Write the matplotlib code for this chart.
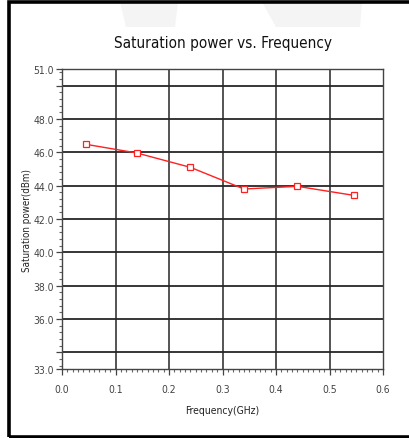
import matplotlib
matplotlib.use("Agg")
import matplotlib.pyplot as plt
from matplotlib.patches import Rectangle, Polygon
from matplotlib.ticker import MultipleLocator, FixedLocator

# 数据
freq_ghz = [0.045, 0.14, 0.24, 0.34, 0.44, 0.545]
sat_power_dbm = [46.48, 45.96, 45.1, 43.8, 43.96, 43.42]

y_ticks = [33, 34, 36, 38, 40, 42, 44, 46, 48, 50, 51]
y_labels = ["33.0", "", "36.0", "38.0", "40.0", "42.0", "44.0", "46.0", "48.0", "", "51.0"]
x_ticks = [0.0, 0.1, 0.2, 0.3, 0.4, 0.5, 0.6]
x_labels = ["0.0", "0.1", "0.2", "0.3", "0.4", "0.5", "0.6"]

plt.rcParams["font.family"] = ["DejaVu Sans"]
plt.rcParams["font.stretch"] = "condensed"

W, H = 409, 439
fig = plt.figure(figsize=(W / 100, H / 100), dpi=100)
fig.set_facecolor("white")

# 背景水印（很浅的灰）
fig.patches.append(Polygon([(120 / W, 1 - 3 / H), (178 / W, 1 - 3 / H), (175 / W, 1 - 28 / H), (126 / W, 1 - 28 / H)],
                           closed=True, transform=fig.transFigure, facecolor="#f4f4f4", edgecolor="none", zorder=0))
fig.patches.append(Polygon([(262 / W, 1 - 3 / H), (362 / W, 1 - 3 / H), (360 / W, 1 - 28 / H), (276 / W, 1 - 28 / H)],
                           closed=True, transform=fig.transFigure, facecolor="#f4f4f4", edgecolor="none", zorder=0))

# 外框（右边在图外）
fig.patches.append(Rectangle((8.5 / W, 1.5 / H), (W + 10) / W, (H - 4.5) / H, transform=fig.transFigure,
                             facecolor="none", edgecolor="black", linewidth=2.6, zorder=5))

ax = fig.add_axes([62 / W, 1 - 370 / H, (383 - 62) / W, (370 - 70) / H])
ax.set_xlim(0.0, 0.6)
ax.set_ylim(33, 51)

# 网格线
for y in y_ticks[1:-1]:
    ax.axhline(y, color="#262626", linewidth=1.3, zorder=1)
for x in x_ticks[1:-1]:
    ax.axvline(x, color="#262626", linewidth=1.1, zorder=1)

ax.plot(freq_ghz, sat_power_dbm, color="#ff2020", linewidth=1.0, marker="s", markersize=4.5,
        markerfacecolor="white", markeredgecolor="#ff2020", markeredgewidth=0.9, zorder=3)

ax.yaxis.set_major_locator(FixedLocator(y_ticks))
ax.set_yticklabels(y_labels)
ax.yaxis.set_minor_locator(MultipleLocator(0.4))
ax.set_xticks(x_ticks)
ax.set_xticklabels(x_labels)
ax.xaxis.set_minor_locator(MultipleLocator(0.01))

ax.tick_params(axis="both", which="major", direction="out", length=4, width=0.9,
               colors="#444444", labelsize=7.5, pad=2)
ax.tick_params(axis="both", which="minor", direction="out", length=2.5, width=0.8, colors="#666666")
ax.tick_params(axis="x", which="major", pad=7)

for side in ["top", "right", "left", "bottom"]:
    ax.spines[side].set_color("#444444")
    ax.spines[side].set_linewidth(1.0)

ax.set_title("Saturation power vs. Frequency", fontsize=11, color="#111111", pad=16)
ax.set_xlabel("Frequency(GHz)", fontsize=7.5, color="#222222", labelpad=8)
ax.set_ylabel("Saturation power(dBm)", fontsize=7, color="#222222", labelpad=1)

fig.savefig("out.png", dpi=100, facecolor="white")
